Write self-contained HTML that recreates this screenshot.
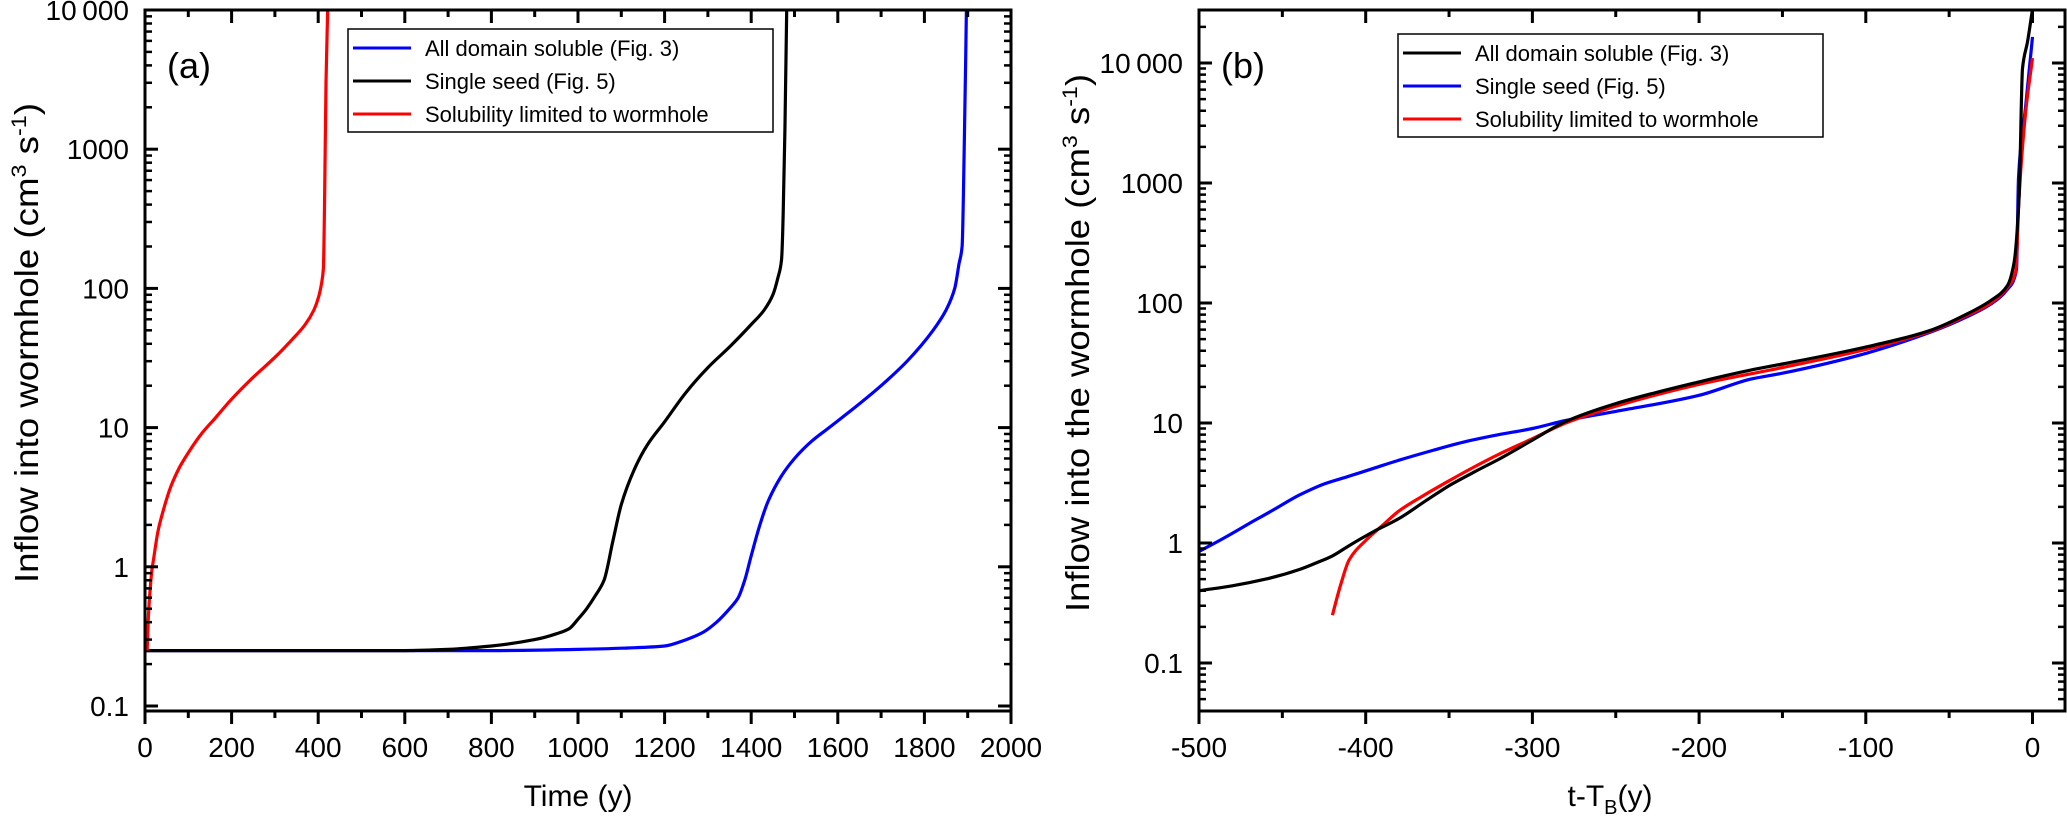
<!DOCTYPE html>
<html><head><meta charset="utf-8"><style>
html,body{margin:0;padding:0;background:#fff;}
svg{display:block;font-family:"Liberation Sans",Arial,sans-serif;}
</style></head><body>
<svg id="chart" width="2067" height="824" viewBox="0 0 2067 824"></svg>
<script>
// ---- Panel (a) data ----
const aYears_all = [0,200,400,600,800,1000,1100,1200,1250,1290,1320,1350,1370,1385,1400,1420,1440,1470,1500,1540,1580,1640,1700,1760,1820,1850,1870,1880,1887,1892,1897];
const aVals_all  = [0.25,0.25,0.25,0.25,0.25,0.255,0.26,0.27,0.3,0.34,0.4,0.5,0.6,0.8,1.2,2,3,4.5,6,8,10,14,20,30,50,70,100,150,200,1000,10000];
const aYears_seed = [0,200,400,600,700,800,900,950,980,1000,1020,1040,1060,1080,1100,1130,1160,1200,1250,1300,1350,1400,1430,1450,1462,1470,1474,1478,1482];
const aVals_seed  = [0.25,0.25,0.25,0.25,0.255,0.27,0.3,0.33,0.36,0.42,0.5,0.62,0.8,1.5,2.8,5,7.5,11,18,27,38,55,70,90,120,160,350,1500,10000];
const aYears_wh = [5,8,12,16,20,30,40,60,80,100,130,160,200,250,300,340,370,390,400,408,412,415,418,422];
const aVals_wh  = [0.25,0.45,0.7,0.95,1.15,1.8,2.4,3.8,5.2,6.6,9,11.5,16,23,32,43,55,70,85,110,140,500,3000,10000];
// ---- Panel (b) data ----
const bT_all = [-500,-480,-460,-440,-430,-420,-410,-395,-380,-365,-350,-335,-320,-300,-280,-250,-200,-169,-150,-100,-60,-40,-25,-15,-11,-8,-6,-3,0];
const bV_all = [0.4,0.44,0.5,0.6,0.68,0.78,0.95,1.25,1.6,2.2,3,3.9,5,7.2,10.3,14.5,22,27.6,31,43,60,80,105,140,220,800,9000,15000,28000];
const bT_seed = [-500,-485,-470,-455,-440,-425,-410,-395,-380,-360,-340,-320,-300,-280,-250,-200,-169,-150,-100,-60,-40,-25,-15,-9.6,-8.4,-4,0];
const bV_seed = [0.85,1.1,1.45,1.9,2.5,3.1,3.6,4.2,4.9,5.9,7,8,9,10.5,12.5,17,23.2,26,38,58,76,98,130,190,1100,4500,16500];
const bT_wh = [-420,-415,-410,-400,-390,-380,-365,-350,-335,-320,-300,-280,-250,-200,-150,-100,-60,-40,-25,-15,-10,-8,-4,0];
const bV_wh = [0.25,0.45,0.72,1.05,1.4,1.85,2.5,3.3,4.3,5.5,7.4,10,13.8,21,29,41,59,78,100,135,185,800,4000,11000];
// ---- Tick labels ----
const aXTicks = [0,200,400,600,800,1000,1200,1400,1600,1800,2000];
const aYTicks = [0.1,1,10,100,1000,10000];
const aYLabels = ["0.1","1","10","100","1000","10\u2009000"];
const bXTicks = [-500,-400,-300,-200,-100,0];
const bYTicks = [0.1,1,10,100,1000,10000];
const bYLabels = ["0.1","1","10","100","1000","10\u2009000"];

const NS="http://www.w3.org/2000/svg";
const svg=document.getElementById('chart');
function mk(tag,attrs,parent){const e=document.createElementNS(NS,tag);for(const k in attrs)e.setAttribute(k,attrs[k]);(parent||svg).appendChild(e);return e;}

// monotone cubic path through pixel points (x increasing)
function smoothPath(px,py){
  const n=px.length; if(n<3) return px.map((x,i)=>(i?'L':'M')+x+','+py[i]).join(' ');
  const d=[],m=new Array(n);
  for(let i=0;i<n-1;i++){const h=px[i+1]-px[i];d.push(h>0?(py[i+1]-py[i])/h:0);}
  m[0]=d[0];m[n-1]=d[n-2];
  for(let i=1;i<n-1;i++){ if(d[i-1]*d[i]<=0) m[i]=0; else {const w1=2*(px[i+1]-px[i])+(px[i]-px[i-1]),w2=(px[i+1]-px[i])+2*(px[i]-px[i-1]);m[i]=(w1+w2)/(w1/d[i-1]+w2/d[i]);} }
  let s='M'+px[0].toFixed(1)+','+py[0].toFixed(1);
  for(let i=0;i<n-1;i++){const h=(px[i+1]-px[i])/3;
    s+=' C'+(px[i]+h).toFixed(1)+','+(py[i]+m[i]*h).toFixed(1)+' '+(px[i+1]-h).toFixed(1)+','+(py[i+1]-m[i+1]*h).toFixed(1)+' '+px[i+1].toFixed(1)+','+py[i+1].toFixed(1);}
  return s;
}

function panel(cfg){
  const g=mk('g',{});
  
  
  const X=v=>cfg.x0+(v-cfg.xmin)/(cfg.xmax-cfg.xmin)*(cfg.x1-cfg.x0);
  const Y=v=>cfg.yRef-(Math.log10(v)-cfg.refDec)*cfg.dec;
  cfg.series.forEach(s=>{
    const d=smoothPath(s.xs.map(X),s.ys.map(Y));
    const p=mk('path',{d:d,fill:'none',stroke:s.color,'stroke-width':3.2,'stroke-linejoin':'round'},g);
    
    
  });
  mk('rect',{x:cfg.x0-5,y:0,width:cfg.x1-cfg.x0+10,height:cfg.y0,fill:'#fff'},g);
  const fr=mk('rect',{x:cfg.x0,y:cfg.y0,width:cfg.x1-cfg.x0,height:cfg.y1-cfg.y0,fill:'none',stroke:'#000','stroke-width':3},g);
  
  
  cfg.xTicks.forEach((v,i)=>{
    const x=X(v);
    mk('line',{x1:x,y1:cfg.y1,x2:x,y2:cfg.y1+13,stroke:'#000','stroke-width':3},g);
    mk('line',{x1:x,y1:cfg.y0,x2:x,y2:cfg.y0+13,stroke:'#000','stroke-width':3},g);
    if(i<cfg.xTicks.length-1){const xm=X((v+cfg.xTicks[i+1])/2);
      mk('line',{x1:xm,y1:cfg.y1,x2:xm,y2:cfg.y1+7,stroke:'#000','stroke-width':3},g);
      mk('line',{x1:xm,y1:cfg.y0,x2:xm,y2:cfg.y0+7,stroke:'#000','stroke-width':3},g);}
    const t=mk('text',{x:x,y:757,'font-size':28,'text-anchor':'middle',fill:'#000'},g);
    t.textContent=String(v);
    
    
  });
  cfg.yTicks.forEach((v,i)=>{
    const y=Y(v);
    [[cfg.x0,1],[cfg.x1,-1]].forEach(([ax,dir])=>{
      mk('line',{x1:ax,y1:y,x2:ax+dir*13,y2:y,stroke:'#000','stroke-width':3},g);
      for(let m=2;m<=9;m++){const ym=Y(v*m); if(ym>cfg.y0&&ym<cfg.y1) mk('line',{x1:ax,y1:ym,x2:ax+dir*7,y2:ym,stroke:'#000','stroke-width':2.5},g);}
      for(let m=2;m<=9;m++){const ym=Y(v/10*m); if(i===0&&ym>cfg.y0&&ym<cfg.y1) mk('line',{x1:ax,y1:ym,x2:ax+dir*7,y2:ym,stroke:'#000','stroke-width':2.5},g);}
    });
    const t=mk('text',{x:cfg.x0-16,y:y+10,'font-size':28,'text-anchor':'end',fill:'#000'},g);
    t.textContent=cfg.yLabels[i];
    
    
  });
  const pl=mk('text',{x:cfg.x0+22,y:78,'font-size':36,fill:'#000'},g);
  pl.textContent=cfg.tag;
  
  
  const lg=mk('g',{},g);
  
  
  mk('rect',{x:cfg.lx,y:cfg.ly,width:425,height:103,fill:'#fff',stroke:'#000','stroke-width':1.5},lg);
  cfg.legend.forEach((e,i)=>{
    const yy=cfg.ly+19+i*33;
    mk('line',{x1:cfg.lx+5,y1:yy,x2:cfg.lx+63,y2:yy,stroke:e[1],'stroke-width':3},lg);
    const t=mk('text',{x:cfg.lx+77,y:yy+8,'font-size':22,fill:'#000'},lg);
    t.textContent=e[0];
    
    
  });
}

panel({name:'panel-a',tag:'(a)',x0:145,x1:1011,y0:10,y1:711,xmin:0,xmax:2000,yRef:706,refDec:-1,dec:139.2,
  xTicks:aXTicks,yTicks:aYTicks,yLabels:aYLabels,lx:348,ly:29,
  legend:[["All domain soluble (Fig. 3)","#0000ff"],["Single seed (Fig. 5)","#000"],["Solubility limited to wormhole","#ff0000"]],
  series:[{id:'curve-all-domain',xs:aYears_all,ys:aVals_all,color:'#0000ff'},{id:'curve-single-seed',xs:aYears_seed,ys:aVals_seed,color:'#000'},{id:'curve-wormhole',xs:aYears_wh,ys:aVals_wh,color:'#ff0000'}]});
panel({name:'panel-b',tag:'(b)',x0:1199,x1:2065,y0:10,y1:711,xmin:-500,xmax:19.5,yRef:663,refDec:-1,dec:120,
  xTicks:bXTicks,yTicks:bYTicks,yLabels:bYLabels,lx:1398,ly:34,
  legend:[["All domain soluble (Fig. 3)","#000"],["Single seed (Fig. 5)","#0000ff"],["Solubility limited to wormhole","#ff0000"]],
  series:[{id:'curve-single-seed',xs:bT_seed,ys:bV_seed,color:'#0000ff'},{id:'curve-wormhole',xs:bT_wh,ys:bV_wh,color:'#ff0000'},{id:'curve-all-domain',xs:bT_all,ys:bV_all,color:'#000'}]});
</script>
<div style="position:absolute;left:0;top:0;width:2067px;height:824px;pointer-events:none;">
<svg width="2067" height="824" style="position:absolute;left:0;top:0;font-family:'Liberation Sans',Arial,sans-serif;">
<text x="578" y="806" font-size="30" text-anchor="middle">Time (y)</text>
<text x="1610" y="806" font-size="30" text-anchor="middle">t-T<tspan font-size="20" dy="8">B</tspan><tspan dy="-8">(y)</tspan></text>
<text transform="translate(38,343) rotate(-90)" font-size="33" text-anchor="middle" textLength="480" lengthAdjust="spacingAndGlyphs">Inflow into wormhole (cm<tspan font-size="21" dy="-12">3</tspan><tspan dy="12"> s</tspan><tspan font-size="21" dy="-12">-1</tspan><tspan dy="12">)</tspan></text>
<text transform="translate(1089,343) rotate(-90)" font-size="33" text-anchor="middle" textLength="538" lengthAdjust="spacingAndGlyphs">Inflow into the wormhole (cm<tspan font-size="21" dy="-12">3</tspan><tspan dy="12"> s</tspan><tspan font-size="21" dy="-12">-1</tspan><tspan dy="12">)</tspan></text>
</svg></div>
</body></html>
